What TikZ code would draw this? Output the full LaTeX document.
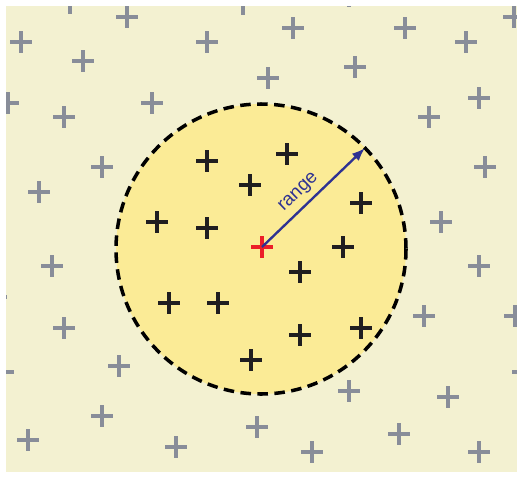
\documentclass[tikz,border=0pt]{standalone}
\usepackage{fontspec}
\setsansfont{Liberation Sans}
\usetikzlibrary{arrows.meta,calc}
\definecolor{paleground}{RGB}{243,241,209}
\definecolor{rangefill}{RGB}{251,235,150}
\definecolor{farcol}{RGB}{136,141,153}
\definecolor{nearcol}{RGB}{32,30,32}
\definecolor{selfcol}{RGB}{236,30,40}
\definecolor{rangecol}{RGB}{46,50,146}

\begin{document}
\begin{tikzpicture}[x=0.03cm,y=-0.03cm,
    farpt/.style={farcol,line width=3pt},
    nearpt/.style={nearcol,line width=3.2pt},
    selfpt/.style={selfcol,line width=3.2pt}]
  \useasboundingbox (0,0) rectangle (517,477);
  % pale field
  \fill[paleground] (6,6) rectangle (517,472);
  % communication range
  \coordinate (ctr) at (261,249);
  \coordinate (self) at (262,247);
  \coordinate (rim) at (365,148);
  \fill[rangefill] (ctr) circle (145);
  \draw[black,line width=3pt,dash pattern=on 9pt off 5.5pt] (ctr) circle (145);
  % nodes out of range
  \begin{scope}
    \clip (6,6) rectangle (517,472);
    \foreach \x/\y in {70/3,127/17,243/4,349/-4,21/42,207/42,293/28,405/28,466/42,514/17,
                       83/61,268/78,355/67,8/103,64/117,152/103,479/98,429/117,
                       102/167,485/167,39/192,441/222,52/266,479/266,-4/297,
                       64/328,424/316,515/316,3/372,119/366,523/372,349/391,448/397,
                       102/416,28/440,176/447,257/427,312/452,399/434,479/452}{
      \draw[farpt] (\x-11,\y) -- +(22,0) (\x,\y-11) -- +(0,22);
    }
  \end{scope}
  % nodes in range
  \foreach \x/\y in {207/161,287/154,250/185,157/222,207/228,361/203,343/247,
                     300/272,169/303,218/303,361/328,300/335,251/360}{
    \draw[nearpt] (\x-11,\y) -- +(22,0) (\x,\y-11) -- +(0,22);
  }
  % the node itself
  \draw[selfpt] (251,247) -- +(22,0) (262,236) -- +(0,22);
  % range arrow
  \draw[rangecol,line width=2pt,-{Latex[length=4mm,width=3mm]}] (self) -- (rim);
  \node[rangecol,rotate=44,font=\sffamily\fontsize{16}{18}\selectfont,above=2pt]
    (lbl) at ($(self)!0.45!(rim)$) {range};
\end{tikzpicture}
\end{document}
